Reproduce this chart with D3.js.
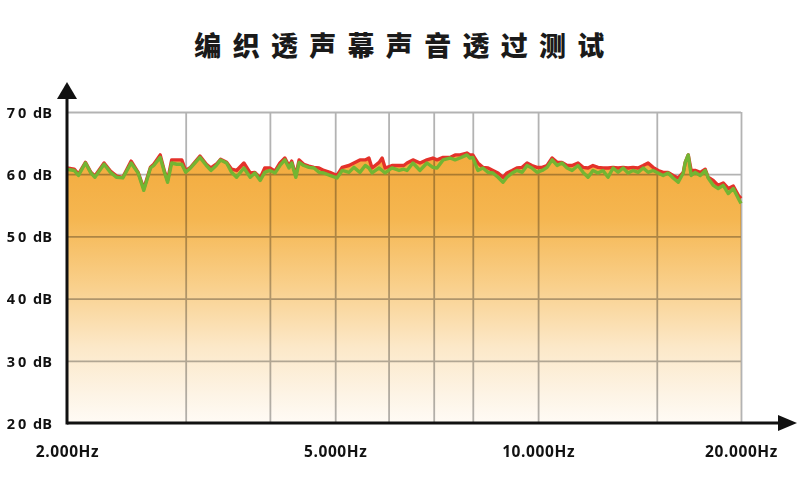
<!DOCTYPE html>
<html><head><meta charset="utf-8">
<script src="https://cdn.jsdelivr.net/npm/d3@7"></script>
<style>body{margin:0;background:#fff;overflow:hidden}</style>
</head><body>
<svg id="c" width="800" height="478"></svg>
<script>
const title = "编织透声幕声音透过测试";
const freqs = [2000,2050,2080,2130,2170,2200,2270,2320,2370,2420,
2490,2550,2600,2660,2690,2750,2790,2820,2860,2910,
2960,3000,3050,3150,3220,3270,3330,3380,3450,3510,
3570,3660,3740,3800,3870,3930,4000,4070,4140,4210,
4270,4310,4370,4420,4490,4570,4650,4730,4810,4910,
5030,5120,5240,5330,5440,5540,5610,5670,5810,5870,
5930,6070,6220,6320,6390,6520,6680,6840,6980,7080,
7230,7400,7530,7660,7840,7920,8000,8140,8280,8430,
8570,8720,8870,8990,9150,9300,9470,9630,9790,9960,
10140,10310,10490,10670,10850,11040,11230,11460,11660,11860,
12060,12270,12480,12700,12920,13140,13370,13600,13830,14070,
14320,14560,14810,15070,15330,15590,15860,16140,16420,16530,
16700,16870,17100,17400,17700,17880,18190,18500,18820,19150,
19480,19820,20000];
const greenDb = [60.8,60.6,59.8,61.8,60.2,59.5,61.6,60.3,59.5,59.4,
61.8,60.2,57.4,61.0,61.4,62.7,60.3,58.7,61.8,61.6,
61.6,60.3,61.0,62.7,61.4,60.6,61.4,62.3,61.8,60.3,
59.5,61.0,59.5,60.2,59.0,60.3,60.6,60.2,61.4,62.3,
61.0,61.8,59.5,61.9,61.4,61.1,61.0,60.3,60.2,59.8,
59.4,60.6,60.3,61.1,60.3,61.4,61.0,60.2,61.0,60.6,
60.2,61.0,60.6,60.8,60.6,61.8,60.6,61.8,61.1,61.0,
62.3,62.6,62.3,62.6,63.1,62.6,62.7,60.6,61.0,60.3,
60.2,59.5,58.7,59.5,60.2,60.6,60.3,61.4,61.0,60.3,
60.6,61.1,62.3,61.4,61.8,61.0,60.6,61.4,60.3,59.5,
60.6,60.2,60.6,59.5,61.0,60.3,61.0,60.2,60.6,60.3,
61.0,60.3,60.6,60.2,59.8,60.2,59.4,58.7,60.2,61.9,
63.1,59.8,60.3,59.8,60.6,59.4,58.2,57.7,58.2,56.9,
57.7,56.1,55.3];
const redDb = [61.0,60.8,60.0,61.9,60.3,59.7,61.8,60.5,59.7,59.5,
62.1,60.3,57.7,61.1,61.6,63.1,60.5,59.0,62.3,62.3,
62.3,60.6,61.1,62.9,61.6,61.0,61.6,62.4,61.9,60.8,
60.6,61.8,60.2,60.3,59.4,61.0,61.0,60.5,61.8,62.6,
61.3,62.1,59.8,62.3,61.6,61.3,61.1,61.0,60.6,60.3,
59.8,61.1,61.4,61.8,62.3,62.3,62.6,61.0,61.9,62.6,
61.0,61.4,61.4,61.4,61.8,62.3,61.8,62.3,62.6,62.3,
62.7,62.7,63.1,63.1,63.4,63.1,63.1,61.8,61.1,61.0,
60.6,60.2,59.5,60.2,60.6,61.0,61.1,61.8,61.4,61.1,
61.1,61.4,62.6,61.9,61.9,61.4,61.4,61.8,61.1,61.0,
61.4,61.1,61.0,61.0,61.1,61.0,61.1,61.0,61.1,61.0,
61.4,61.8,61.1,60.6,60.3,60.3,59.8,59.4,60.3,61.9,
63.1,60.6,60.6,60.3,60.8,59.5,59.0,58.2,58.6,57.7,
58.1,56.6,56.1];
const yTicks = [20,30,40,50,60,70];
const yTickLabels = ["20 dB","30 dB","40 dB","50 dB","60 dB","70 dB"];
const gridFreqs = [3000,4000,5000,6000,7000,8000,10000,15000,20000];
const xTickFreqs = [2000,5000,10000,20000];
const xTickLabels = ["2.000Hz","5.000Hz","10.000Hz","20.000Hz"];

const svg = d3.select("#c");
const L = 67, R = 741, T = 112, B = 423;
const x = d3.scaleLog().domain([2000,20000]).range([L,R]);
const y = d3.scaleLinear().domain([20,70]).range([B,T]);

const defs = svg.append("defs");
const grad = defs.append("linearGradient").attr("id","fillg")
  .attr("gradientUnits","userSpaceOnUse").attr("x1",0).attr("x2",0).attr("y1",150).attr("y2",B);
[[0,"#f3aa3c"],[0.25,"#f5b650"],[0.5,"#f9d08c"],[0.72,"#fce8c8"],[0.9,"#fdf4e6"],[1,"#fffbf5"]]
  .forEach(([o,c])=>grad.append("stop").attr("offset",o).attr("stop-color",c));
defs.append("filter").attr("id","soft").attr("x","-5%").attr("y","-50%").attr("width","110%").attr("height","200%")
  .append("feGaussianBlur").attr("stdDeviation",0.55);

const data = freqs.map((f,i)=>({f, r:redDb[i], g:greenDb[i]}));

// title
svg.append("text").attr("x",405).attr("y",56).attr("text-anchor","middle")
  .style("font-family","'Noto Sans CJK SC'").style("font-weight",900).style("font-size","27px")
  .style("letter-spacing","11.3px").attr("fill","#1a1a1a").text(title);

// fill
svg.append("path").datum(data).attr("fill","url(#fillg)")
  .attr("d", d3.area().x(d=>x(d.f)).y0(y(20)).y1(d=>y(d.r)));

// grid (multiply over fill)
const grid = svg.append("g").style("mix-blend-mode","multiply");
grid.append("g").attr("transform",`translate(0,${B})`)
  .call(d3.axisBottom(x).tickValues(gridFreqs).tickFormat("").tickSize(-(B-T)))
  .call(g=>g.select(".domain").remove())
  .selectAll("line").attr("stroke","#b3b3b3").attr("stroke-width",1.8);
grid.append("g").attr("transform",`translate(${L},0)`)
  .call(d3.axisLeft(y).tickValues([30,40,50,60,70]).tickFormat("").tickSize(-(R-L)))
  .call(g=>g.select(".domain").remove())
  .selectAll("line").attr("stroke","#b3b3b3").attr("stroke-width",1.8);

// lines
const lg = svg.append("g").attr("filter","url(#soft)");
lg.append("path").datum(data).attr("fill","none").attr("stroke","#e4322b").attr("stroke-width",3.4)
  .attr("stroke-linejoin","round").attr("d", d3.line().x(d=>x(d.f)).y(d=>y(d.r)));
lg.append("path").datum(data).attr("fill","none").attr("stroke","#73b532").attr("stroke-width",3.4)
  .attr("stroke-linejoin","round").attr("d", d3.line().x(d=>x(d.f)).y(d=>y(d.g)));

// axes
svg.append("line").attr("x1",L).attr("x2",782).attr("y1",B).attr("y2",B).attr("stroke","#111").attr("stroke-width",3);
svg.append("line").attr("x1",L).attr("x2",L).attr("y1",B+1.5).attr("y2",96).attr("stroke","#111").attr("stroke-width",3);
svg.append("path").attr("d",`M797,${B} L778,${B-8} L778,${B+8} Z`).attr("fill","#111");
svg.append("path").attr("d",`M${L},82 L${L-10},99 L${L+10},99 Z`).attr("fill","#111");

// y labels
const ya = svg.append("g").attr("transform",`translate(${L},0)`)
  .call(d3.axisLeft(y).tickValues(yTicks).tickFormat((d,i)=>yTickLabels[i]).tickSize(0).tickPadding(15));
ya.select(".domain").remove();
ya.selectAll("text").attr("dy","0.36em").style("font-family","'Open Sans'").style("font-weight",700)
  .style("font-size","14.5px").attr("fill","#111")
  .each(function(d,i){
    const t = d3.select(this), s = yTickLabels[i], parts = s.split(" ");
    t.text(null);
    t.append("tspan").style("letter-spacing","3px").text(parts[0]);
    t.append("tspan").style("letter-spacing","0px").text(" " + parts[1]);
  });

// x labels
const xa = svg.append("g").attr("transform",`translate(0,${B})`)
  .call(d3.axisBottom(x).tickValues(xTickFreqs).tickFormat((d,i)=>xTickLabels[i]).tickSize(0).tickPadding(23));
xa.select(".domain").remove();
xa.selectAll("text").style("font-family","'Open Sans'").style("font-weight",700)
  .style("font-size","15.5px").style("letter-spacing","0.6px").attr("fill","#111");
</script>
</body></html>
